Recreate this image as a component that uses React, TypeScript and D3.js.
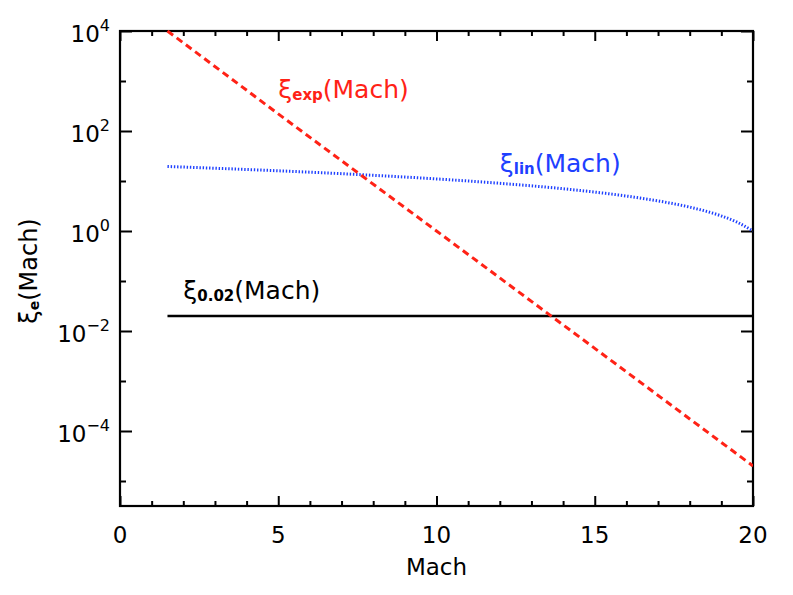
import { useEffect, useRef } from 'react';
import * as d3 from 'd3';

// values
const machExp = [1.5, 5, 10, 15, 20];
const xiExp = [1.0e4, 2.2e2, 1.0, 4.5e-3, 2.0e-5];

const machLin = [1.5, 3, 5, 7.5, 10, 12, 14, 16, 17, 18, 19, 19.5, 20];
const xiLin = [19.5, 18, 16, 13.5, 11, 9, 7, 5, 4, 3, 2, 1.5, 1];

const machConst = [1.5, 20];
const xiConst = [0.02, 0.02];

const xMajor = [0, 5, 10, 15, 20];
const xMinor = d3.range(0, 21, 1);
const yMajorExp = [4, 2, 0, -2, -4];
const yMinorExp = [3, 1, -1, -3, -5];

const RED = '#ff2216';
const BLUE = '#1e40ff';
const FONT = '"DejaVu Sans", sans-serif';

const labels = [
  { sub: 'exp', mach: 5.0, value: 450, color: RED },
  { sub: 'lin', mach: 12.0, value: 15, color: BLUE },
  { sub: '0.02', mach: 2.0, value: 0.043, color: '#000' },
];

const App = () => {
  const ref = useRef<SVGSVGElement>(null);

  useEffect(() => {
    if (!ref.current) return;
    const svg = d3.select(ref.current);
    svg.selectAll('*').remove();

    const left = 120, right = 753, top = 31, bottom = 506;

    const x = d3.scaleLinear().domain([0, 20]).range([left, right]);
    const y = d3.scaleLog().domain([Math.pow(10, -5.5), 1e4]).range([bottom, top]);

    const g = svg.append('g');

    // ticks, inward on all four sides
    const drawAxis = (axis: any, transform: string) => {
      const a = g.append('g').attr('transform', transform).call(axis);
      a.select('.domain').remove();
      a.selectAll('text').remove();
      a.selectAll('line').attr('stroke', '#000').attr('stroke-width', 2);
    };

    const yMaj = yMajorExp.map(e => Math.pow(10, e));
    const yMin = yMinorExp.map(e => Math.pow(10, e));
    const xMin = xMinor.filter(v => !xMajor.includes(v));

    drawAxis(d3.axisBottom(x).tickValues(xMajor).tickSize(-10), `translate(0,${bottom})`);
    drawAxis(d3.axisBottom(x).tickValues(xMin).tickSize(-5), `translate(0,${bottom})`);
    drawAxis(d3.axisTop(x).tickValues(xMajor).tickSize(-10), `translate(0,${top})`);
    drawAxis(d3.axisTop(x).tickValues(xMin).tickSize(-5), `translate(0,${top})`);
    drawAxis(d3.axisLeft(y).tickValues(yMaj).tickSize(-12), `translate(${left},0)`);
    drawAxis(d3.axisLeft(y).tickValues(yMin).tickSize(-6), `translate(${left},0)`);
    drawAxis(d3.axisRight(y).tickValues(yMaj).tickSize(-12), `translate(${right},0)`);
    drawAxis(d3.axisRight(y).tickValues(yMin).tickSize(-6), `translate(${right},0)`);

    // frame
    g.append('rect')
      .attr('x', left).attr('y', top)
      .attr('width', right - left).attr('height', bottom - top)
      .attr('fill', 'none').attr('stroke', '#000').attr('stroke-width', 2.2);

    // x tick labels
    g.selectAll('text.xt')
      .data(xMajor)
      .enter()
      .append('text')
      .attr('class', 'xt')
      .attr('x', d => x(d))
      .attr('y', bottom + 37)
      .attr('text-anchor', 'middle')
      .style('font-family', FONT)
      .style('font-size', '23px')
      .text(d => String(d));

    // y tick labels with superscript exponents
    yMajorExp.forEach(e => {
      const t = g.append('text')
        .attr('x', left - 10)
        .attr('y', y(Math.pow(10, e)) + 11)
        .attr('text-anchor', 'end')
        .style('font-family', FONT)
        .style('font-size', '23px');
      t.append('tspan').text('10');
      t.append('tspan')
        .attr('dy', -11)
        .style('font-size', '16px')
        .text(e < 0 ? `\u2212${-e}` : String(e));
    });

    const clip = svg.append('defs').append('clipPath').attr('id', 'plotclip');
    clip.append('rect').attr('x', left).attr('y', top - 1).attr('width', right - left).attr('height', bottom - top + 1);

    const line = d3.line<[number, number]>()
      .x(d => x(d[0]))
      .y(d => y(d[1]));

    const plot = g.append('g').attr('clip-path', 'url(#plotclip)');

    plot.append('path')
      .datum(machConst.map((m, i) => [m, xiConst[i]] as [number, number]))
      .attr('d', line)
      .attr('fill', 'none')
      .attr('stroke', '#000')
      .attr('stroke-width', 2.6);

    plot.append('path')
      .datum(machLin.map((m, i) => [m, xiLin[i]] as [number, number]))
      .attr('d', line.curve(d3.curveMonotoneX))
      .attr('fill', 'none')
      .attr('stroke', BLUE)
      .attr('stroke-width', 3)
      .style('stroke-dasharray', '1.4,1.8');

    plot.append('path')
      .datum(machExp.map((m, i) => [m, xiExp[i]] as [number, number]))
      .attr('d', line.curve(d3.curveLinear))
      .attr('fill', 'none')
      .attr('stroke', RED)
      .attr('stroke-width', 3)
      .style('stroke-dasharray', '7,4.5');

    // curve labels
    labels.forEach(l => {
      const t = g.append('text')
        .attr('x', x(l.mach))
        .attr('y', y(l.value))
        .attr('fill', l.color)
        .style('font-family', FONT)
        .style('font-size', '25px');
      t.append('tspan').text('\u03be');
      t.append('tspan')
        .attr('dy', 2)
        .style('font-size', '15px')
        .style('font-weight', 'bold')
        .text(l.sub);
      t.append('tspan').attr('dy', -2).text('(Mach)');
    });

    // axis titles
    g.append('text')
      .attr('x', (left + right) / 2)
      .attr('y', 575)
      .attr('text-anchor', 'middle')
      .style('font-family', FONT)
      .style('font-size', '23px')
      .text('Mach');

    const yt = g.append('text')
      .attr('transform', `translate(37,271) rotate(-90)`)
      .attr('text-anchor', 'middle')
      .style('font-family', FONT)
      .style('font-size', '24px');
    yt.append('tspan').text('\u03be');
    yt.append('tspan').attr('dy', 2).style('font-size', '14px').style('font-weight', 'bold').text('e');
    yt.append('tspan').attr('dy', -2).text('(Mach)');
  }, []);

  return (
    <svg
      ref={ref}
      width={793}
      height={595}
      style={{ position: 'absolute', left: 0, top: 0, background: '#fff' }}
    />
  );
};

export default App;
